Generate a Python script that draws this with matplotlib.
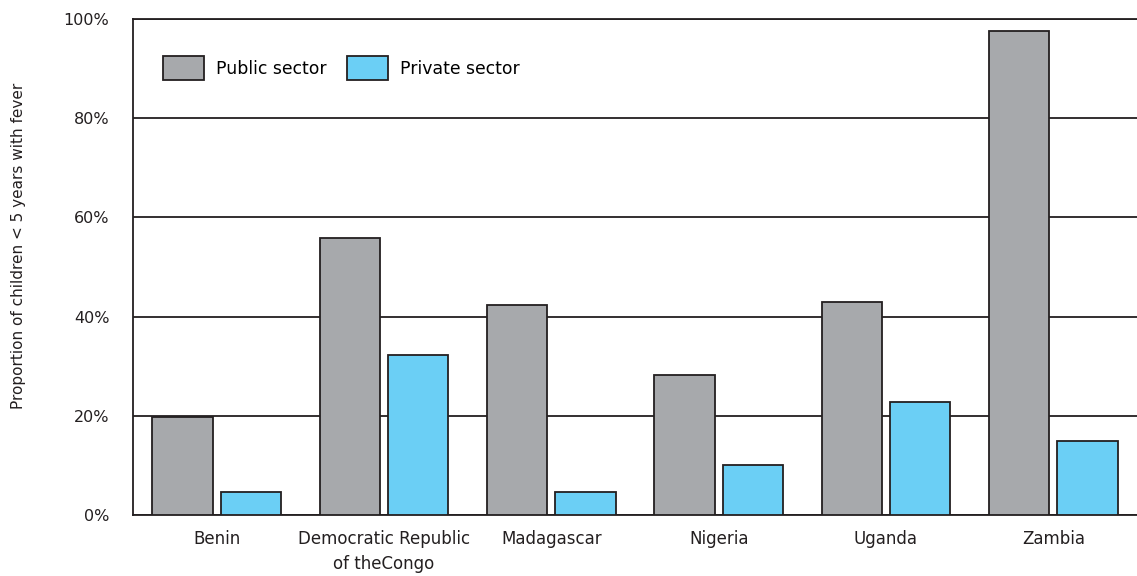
import matplotlib
matplotlib.use("Agg")
import matplotlib.pyplot as plt
import numpy as np

countries = ["Benin", "Democratic Republic\nof theCongo", "Madagascar", "Nigeria", "Uganda", "Zambia"]
public_sector = [19.8, 55.8, 42.3, 28.3, 43.0, 97.6]
private_sector = [4.6, 32.3, 4.6, 10.1, 22.7, 15.0]
yticks = [0, 20, 40, 60, 80, 100]
ytick_labels = ["0%", "20%", "40%", "60%", "80%", "100%"]

plt.rcParams['font.family'] = ['DejaVu Sans']

fig = plt.figure(figsize=(11.37, 5.76), dpi=100)
ax = fig.add_axes([133/1137, 1-515/576, 1-133/1137, (515-19)/576])

x = np.arange(len(countries))
w = 0.36
off = 0.204
ax.bar(x - off, public_sector, w, color="#A7A9AC", edgecolor="#231F20", linewidth=1.3, label="Public sector", zorder=3)
ax.bar(x + off, private_sector, w, color="#6BCFF5", edgecolor="#231F20", linewidth=1.3, label="Private sector", zorder=3)

ax.set_xlim(-0.5, 5.5)
ax.set_ylim(0, 100)
ax.set_yticks(yticks)
ax.set_yticklabels(ytick_labels)
ax.set_xticks(x)
ax.set_xticklabels(countries, linespacing=1.45)
ax.tick_params(axis='y', length=0, pad=17, labelsize=11.5, colors="#231F20")
ax.tick_params(axis='x', length=0, pad=11, labelsize=12, colors="#231F20")
ax.yaxis.grid(True, color="#231F20", linewidth=1.3, zorder=0)
ax.set_axisbelow(True)
ax.spines["right"].set_visible(False)
for s in ["left", "bottom", "top"]:
    ax.spines[s].set_color("#231F20")
    ax.spines[s].set_linewidth(1.3)

ax.set_ylabel("Proportion of children < 5 years with fever", fontsize=11, color="#231F20")
ax.yaxis.set_label_coords(-0.107, 0.542)

ax.legend(loc="upper left", bbox_to_anchor=(0.030, 0.925), ncol=2, frameon=False,
          fontsize=12.4, handlelength=2.38, handleheight=1.77, handletextpad=0.7,
          columnspacing=1.15, borderpad=0, borderaxespad=0)

fig.savefig("out.png", dpi=100)
